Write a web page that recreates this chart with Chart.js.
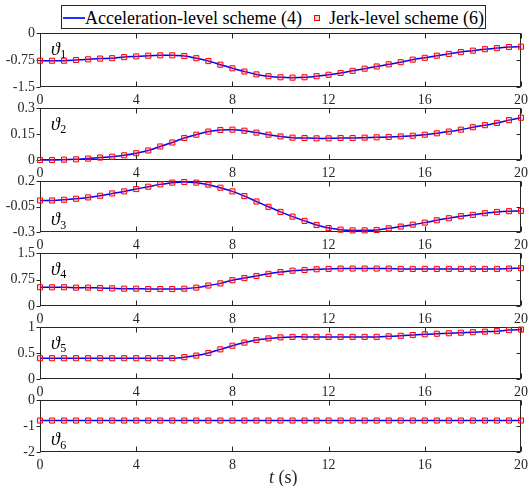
<!DOCTYPE html>
<html><head><meta charset="utf-8">
<script src="https://cdn.jsdelivr.net/npm/chart.js@4/dist/chart.umd.min.js"></script>
<style>
html,body{margin:0;padding:0;background:#fff;}
body{width:528px;height:486px;position:relative;overflow:hidden;font-family:'Liberation Serif','Times New Roman',serif;}
canvas{position:absolute;left:0;}
#legend{position:absolute;left:61px;top:5px;width:425px;height:24px;border:1px solid #262626;box-sizing:border-box;background:#fff;z-index:10;}
#legend span{position:absolute;display:block;}
#legend .txt{font-size:18px;line-height:20px;top:2px;color:#000;white-space:nowrap;}
#legend .ln{left:1px;top:11px;width:22px;height:2px;background:#2233ff;}
#legend .sq{left:252px;top:9px;width:4px;height:4px;border:1px solid #ff0000;background:rgba(255,90,90,0.3);}
</style>
</head><body>
<div id="legend"><span class="ln"></span><span class="txt" id="lt1" style="left:23px"></span><span class="sq"></span><span class="txt" id="lt2" style="left:267px"></span></div>
<script>
// ---- data ----
const times = [0,0.5,1,1.5,2,2.5,3,3.5,4,4.5,5,5.5,6,6.5,7,7.5,8,8.5,9,9.5,10,10.5,11,11.5,12,12.5,13,13.5,14,14.5,15,15.5,16,16.5,17,17.5,18,18.5,19,19.5,20];
const xTicks = [0,4,8,12,16,20];
const theta1 = [-0.77,-0.77,-0.77,-0.75,-0.73,-0.71,-0.70,-0.67,-0.65,-0.63,-0.62,-0.62,-0.64,-0.70,-0.78,-0.88,-0.98,-1.07,-1.15,-1.20,-1.23,-1.24,-1.23,-1.20,-1.16,-1.11,-1.05,-0.99,-0.93,-0.87,-0.81,-0.74,-0.69,-0.63,-0.58,-0.53,-0.49,-0.45,-0.42,-0.39,-0.38];
const theta2 = [0,0,0.002,0.004,0.008,0.014,0.019,0.027,0.039,0.055,0.078,0.101,0.127,0.146,0.164,0.173,0.175,0.169,0.158,0.146,0.136,0.129,0.127,0.125,0.125,0.127,0.127,0.129,0.131,0.133,0.136,0.140,0.146,0.154,0.164,0.175,0.189,0.201,0.214,0.230,0.244];
const theta3 = [0.009,0.009,0.016,0.026,0.039,0.055,0.078,0.098,0.121,0.144,0.167,0.184,0.190,0.184,0.164,0.134,0.098,0.052,-0.001,-0.053,-0.103,-0.149,-0.191,-0.231,-0.261,-0.277,-0.284,-0.284,-0.280,-0.264,-0.247,-0.228,-0.208,-0.185,-0.165,-0.145,-0.132,-0.116,-0.103,-0.096,-0.093];
const theta4 = [0.53,0.53,0.53,0.52,0.52,0.51,0.50,0.49,0.49,0.48,0.48,0.48,0.49,0.52,0.58,0.64,0.73,0.79,0.85,0.91,0.96,1.00,1.02,1.04,1.05,1.06,1.06,1.06,1.06,1.06,1.05,1.05,1.05,1.05,1.05,1.05,1.05,1.05,1.05,1.06,1.07];
const theta5 = [0.40,0.40,0.40,0.40,0.40,0.40,0.40,0.40,0.40,0.40,0.40,0.40,0.42,0.45,0.50,0.57,0.64,0.70,0.75,0.78,0.80,0.81,0.81,0.81,0.81,0.81,0.81,0.81,0.81,0.82,0.83,0.845,0.86,0.87,0.88,0.89,0.90,0.91,0.92,0.94,0.95];
const theta6 = [-0.79,-0.79,-0.79,-0.79,-0.79,-0.79,-0.79,-0.79,-0.79,-0.79,-0.79,-0.79,-0.79,-0.79,-0.79,-0.79,-0.79,-0.79,-0.79,-0.79,-0.79,-0.79,-0.79,-0.79,-0.79,-0.79,-0.79,-0.79,-0.79,-0.79,-0.79,-0.79,-0.79,-0.79,-0.79,-0.79,-0.79,-0.79,-0.79,-0.79,-0.79];
const yTicks1 = [-1.5,-0.75,0];
const yTicks2 = [0,0.15,0.3];
const yTicks3 = [-0.3,-0.05,0.2];
const yTicks4 = [0,0.75,1.5];
const yTicks5 = [0,0.5,1];
const yTicks6 = [-2,-1,0];
const jointSubs = ['1','2','3','4','5','6'];
const legendLabels = ['Acceleration-level scheme (4)','Jerk-level scheme (6)'];
const xTitleVar = 't';
const xTitleUnit = ' (s)';

// ---- layout ----
const series = [theta1,theta2,theta3,theta4,theta5,theta6];
const yTickSets = [yTicks1,yTicks2,yTicks3,yTicks4,yTicks5,yTicks6];
const labelAtBottom = [false,false,true,false,false,true];
const frames = [[33,87],[108,160],[181,232],[253,306],[327,379],[400,452]];
const AX = '#262626';
const tickFont = {family:"'Liberation Serif','Times New Roman',serif", size:14};

document.getElementById('lt1').textContent = legendLabels[0];
document.getElementById('lt2').textContent = legendLabels[1];

function crisp(v){ return Math.round(v) + 0.5; }

frames.forEach((fr, i) => {
  const top = fr[0], h = fr[1] - fr[0];
  const last = i === frames.length - 1;
  const cTop = top - 12;
  const cH = last ? 486 - cTop : 12 + h + 22;
  const canvas = document.createElement('canvas');
  canvas.width = 528; canvas.height = cH;
  canvas.style.top = cTop + 'px';
  canvas.style.width = '528px'; canvas.style.height = cH + 'px';
  document.body.appendChild(canvas);
  const vals = series[i];
  const yt = yTickSets[i];
  const pts = times.map((t, k) => ({x: t, y: vals[k]}));

  const axesPlugin = {
    id: 'axesBox' + i,
    beforeDatasetsDraw(chart) {
      const ctx = chart.ctx, a = chart.chartArea;
      const xs = chart.scales.x, ys = chart.scales.y;
      const L = crisp(a.left), R = crisp(a.right) - 1, T = crisp(a.top), B = crisp(a.bottom) - 1;
      ctx.save();
      ctx.strokeStyle = AX; ctx.lineWidth = 1;
      ctx.strokeRect(L, T, R - L, B - T);
      ctx.beginPath();
      xTicks.forEach(v => {
        const px = crisp(xs.getPixelForValue(v));
        ctx.moveTo(px, B); ctx.lineTo(px, B - 5);
        ctx.moveTo(px, T); ctx.lineTo(px, T + 5);
      });
      yt.forEach(v => {
        const py = crisp(ys.getPixelForValue(v));
        ctx.moveTo(L - 4, py); ctx.lineTo(L, py);
        ctx.moveTo(R, py); ctx.lineTo(R - 4, py);
      });
      ctx.stroke();
      ctx.restore();
    },
    afterDraw(chart) {
      const ctx = chart.ctx, a = chart.chartArea;
      ctx.save();
      ctx.fillStyle = '#000';
      ctx.textBaseline = 'alphabetic';
      const base = labelAtBottom[i] ? a.bottom - 7 : a.top + 21.5;
      ctx.font = "italic 18px 'Liberation Serif','DejaVu Serif',serif";
      ctx.fillText('\u03D1', a.left + 11, base);
      const w = ctx.measureText('\u03D1').width;
      ctx.font = "12px 'Liberation Serif','DejaVu Serif',serif";
      ctx.fillText(jointSubs[i], a.left + 11 + w + 0.5, base + 3.5);
      if (last) {
        ctx.fillStyle = AX;
        ctx.font = "italic 18px 'Liberation Serif','Times New Roman',serif";
        const w1 = ctx.measureText(xTitleVar).width;
        ctx.fillText(xTitleVar, 269, 483 - cTop);
        ctx.font = "18px 'Liberation Serif','Times New Roman',serif";
        ctx.fillText(xTitleUnit, 269 + w1, 483 - cTop);
      }
      ctx.restore();
    }
  };

  new Chart(canvas, {
    type: 'line',
    data: {
      datasets: [
        {label: legendLabels[1], data: pts, showLine: false, pointStyle: 'rect', pointRadius: 3.6,
         pointBorderColor: '#ff0000', pointBackgroundColor: 'rgba(255,90,90,0.25)', pointBorderWidth: 1,
         order: 0, clip: false},
        {label: legendLabels[0], data: pts, borderColor: '#0000ff', borderWidth: 1.5, pointRadius: 0,
         tension: 0.3, fill: false, order: 1, clip: false}
      ]
    },
    options: {
      responsive: false, devicePixelRatio: 1, animation: false, events: [],
      layout: {padding: {top: 12, right: 7, left: 0, bottom: last ? cH - 12 - h - 22 : 0}},
      plugins: {legend: {display: false}, tooltip: {enabled: false}},
      scales: {
        x: {type: 'linear', min: 0, max: 20,
            afterBuildTicks: s => { s.ticks = xTicks.map(v => ({value: v})); },
            afterFit: s => { s.height = 22; s.paddingLeft = 0; s.paddingRight = 0; },
            grid: {display: false, drawTicks: false}, border: {display: false},
            ticks: {font: tickFont, color: AX, padding: 5, maxRotation: 0, autoSkip: false, callback: v => String(v)}},
        y: {type: 'linear', min: yt[0], max: yt[yt.length - 1],
            afterBuildTicks: s => { s.ticks = yt.map(v => ({value: v})); },
            afterFit: s => { s.width = 40; s.paddingTop = 0; s.paddingBottom = 0; },
            grid: {display: false, drawTicks: false}, border: {display: false},
            ticks: {font: tickFont, color: AX, padding: 5, autoSkip: false, callback: v => String(v)}}
      }
    },
    plugins: [axesPlugin]
  });
});
</script>
</body></html>
